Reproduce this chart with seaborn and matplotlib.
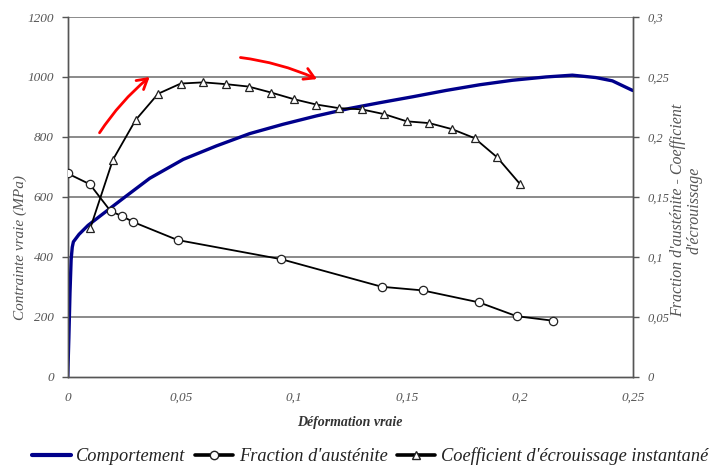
import matplotlib
matplotlib.use("Agg")
import matplotlib.pyplot as plt
import seaborn as sns
import pandas as pd
from matplotlib.lines import Line2D

# --- data ---
comp_x = [0, 0.0005, 0.001, 0.0015, 0.002, 0.0025, 0.005, 0.009, 0.015, 0.024, 0.0363,
          0.0511, 0.0658, 0.0805, 0.0952, 0.110, 0.1247, 0.138, 0.1527, 0.1674,
          0.1823, 0.1968, 0.2116, 0.2233, 0.2337, 0.241, 0.2491, 0.25]
comp_y = [0, 130, 280, 390, 432, 450, 475, 505, 540, 592, 662,
          725, 770, 811, 842, 870, 895, 914, 934, 955,
          974, 989, 1000, 1006, 998, 987, 958, 955]

aust_x = [0.0, 0.0098, 0.019, 0.024, 0.029, 0.0486, 0.0945, 0.139, 0.157, 0.182, 0.1986, 0.2148]
aust_y = [0.1695, 0.1605, 0.138, 0.134, 0.129, 0.114, 0.098, 0.075, 0.072, 0.062, 0.0505, 0.0467]

coef_x = [0.01, 0.02, 0.03, 0.04, 0.05, 0.06, 0.07, 0.08, 0.09, 0.10,
          0.11, 0.12, 0.13, 0.14, 0.15, 0.16, 0.17, 0.18, 0.19, 0.20]
coef_y = [0.124, 0.181, 0.214, 0.236, 0.2445, 0.2455, 0.244, 0.242, 0.237, 0.2315,
          0.227, 0.224, 0.223, 0.219, 0.213, 0.2115, 0.2065, 0.199, 0.183, 0.161]

x_ticks = [0, 0.05, 0.1, 0.15, 0.2, 0.25]
x_labels = ["0", "0,05", "0,1", "0,15", "0,2", "0,25"]
left_ticks = [0, 200, 400, 600, 800, 1000, 1200]
right_ticks = [0, 0.05, 0.1, 0.15, 0.2, 0.25, 0.3]
right_labels = ["0", "0,05", "0,1", "0,15", "0,2", "0,25", "0,3"]

# red hand-drawn arrows (start, end) in data coords of left axis
arrows = [((0.0134, 806), (0.0372, 1006)), ((0.0752, 1066), (0.1114, 989))]

sns.set_theme(style="white")
plt.rcParams['font.family'] = ['Liberation Serif', 'DejaVu Serif']
plt.rcParams['font.style'] = 'italic'

fig = plt.figure(figsize=(7.19, 4.66), dpi=100)
ax = fig.add_axes([0.0942, 0.1916, 0.7858, 0.7719])
ax2 = ax.twinx()

gridc = "#8a8a8a"
spc = "#555555"
txtc = "#555555"

for yv in left_ticks[1:]:
    ax.axhline(yv, color=gridc, lw=1.4, zorder=0)

df_comp = pd.DataFrame({"x": comp_x, "y": comp_y})
df_aust = pd.DataFrame({"x": aust_x, "y": aust_y})
df_coef = pd.DataFrame({"x": coef_x, "y": coef_y})

sns.lineplot(data=df_comp, x="x", y="y", ax=ax, color="#00008b", lw=2.4,
             sort=False, estimator=None, zorder=3)
sns.lineplot(data=df_aust, x="x", y="y", ax=ax2, color="black", lw=1.3,
             marker="o", markersize=6, markerfacecolor="white", markeredgecolor="#222222",
             markeredgewidth=0.9, sort=False, estimator=None, zorder=4)
sns.lineplot(data=df_coef, x="x", y="y", ax=ax2, color="black", lw=1.3,
             marker="^", markersize=6, markerfacecolor="white", markeredgecolor="#222222",
             markeredgewidth=0.9, sort=False, estimator=None, zorder=4)

ax.set_xlim(0, 0.25)
ax.set_ylim(0, 1200)
ax2.set_ylim(0, 0.3)
ax.set_xticks(x_ticks)
ax.set_xticklabels(x_labels)
ax.set_yticks(left_ticks)
ax.set_yticklabels([str(v) for v in left_ticks])
ax2.set_yticks(right_ticks)
ax2.set_yticklabels(right_labels)

for a in (ax, ax2):
    a.spines['top'].set_visible(False)
    for s in ('left', 'right', 'bottom'):
        a.spines[s].set_color(spc)
        a.spines[s].set_linewidth(1.0)
ax.tick_params(axis='y', direction='out', length=4, width=1, color=spc,
               labelsize=9.5, labelcolor=txtc, pad=6)
ax.tick_params(axis='x', direction='out', length=4, width=1, color=spc,
               labelsize=9.5, labelcolor=txtc, pad=7)
ax2.tick_params(axis='y', direction='out', length=4, width=1, color=spc,
                labelsize=9, labelcolor=txtc, pad=7)

ax.set_xlabel("Déformation vraie", fontsize=10, fontweight="bold", color="#333333")
ax.xaxis.set_label_coords(0.5, -0.108)
ax.set_ylabel("Contrainte vraie (MPa)", fontsize=11, color=txtc)
ax.yaxis.set_label_coords(-0.072, 0.36)
ax2.set_ylabel("Fraction d'austénite - Coefficient\nd'écrouissage", fontsize=11.5,
               color=txtc, rotation=90, linespacing=1.0)
ax2.yaxis.set_label_coords(1.067, 0.463)

for (s, e) in arrows:
    ax.annotate("", xy=e, xytext=s,
                arrowprops=dict(arrowstyle="->,head_length=0.6,head_width=0.35",
                                color="red", lw=2, connectionstyle="arc3,rad=-0.08"),
                zorder=6)

handles = [
    Line2D([], [], color="#00008b", lw=3),
    Line2D([], [], color="black", lw=2.6, marker="o", markersize=6,
           markerfacecolor="white", markeredgecolor="#222222"),
    Line2D([], [], color="black", lw=2.6, marker="^", markersize=6,
           markerfacecolor="white", markeredgecolor="#222222"),
]
labels = ["Comportement", "Fraction d'austénite", "Coefficient d'écrouissage instantané"]
fig.legend(handles, labels, loc="center", bbox_to_anchor=(0.515, 0.021), ncol=3,
           frameon=False, fontsize=13.2, handlelength=2.1, handletextpad=0.3,
           columnspacing=0.5, labelcolor="#222222", borderpad=0.2)
if ax2.get_legend():
    ax2.get_legend().remove()
if ax.get_legend():
    ax.get_legend().remove()

fig.savefig("out.png", dpi=100)
